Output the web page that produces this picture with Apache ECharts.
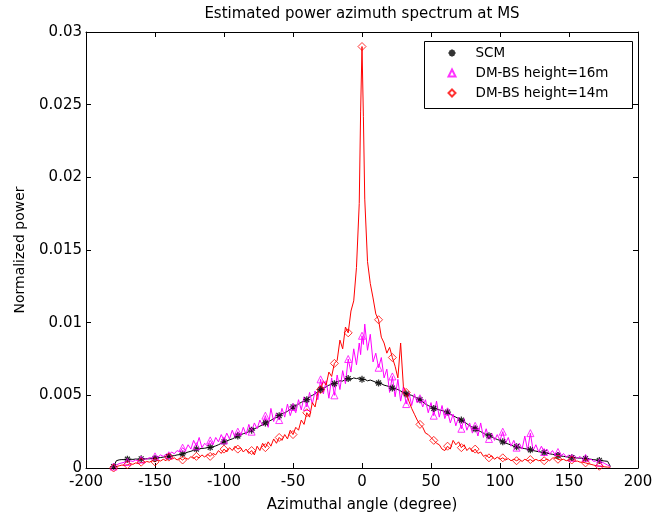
<!DOCTYPE html>
<html>
<head>
<meta charset="utf-8">
<script src="https://cdn.jsdelivr.net/npm/echarts@6/dist/echarts.min.js"></script>
<style>
    html, body { margin: 0; padding: 0; background: #fff; }
    #chart { width: 666px; height: 515px; }
</style>
</head>
<body>
<div id="chart"></div>
<script>
// azimuth angles (degree)
const angles = [
    -180, -178, -176, -174, -172, -170, -168, -166, -164, -162,
    -160, -158, -156, -154, -152, -150, -148, -146, -144, -142,
    -140, -138, -136, -134, -132, -130, -128, -126, -124, -122,
    -120, -118, -116, -114, -112, -110, -108, -106, -104, -102,
    -100, -98, -96, -94, -92, -90, -88, -86, -84, -82,
    -80, -78, -76, -74, -72, -70, -68, -66, -64, -62,
    -60, -58, -56, -54, -52, -50, -48, -46, -44, -42,
    -40, -38, -36, -34, -32, -30, -28, -26, -24, -22,
    -20, -18, -16, -14, -12, -10, -8, -6, -4, -2,
    -1, 0, 1,
    2, 4, 6, 8, 10, 12, 14, 16, 18, 20,
    22, 24, 26, 28, 30, 32, 34, 36, 38, 40,
    42, 44, 46, 48, 50, 52, 54, 56, 58, 60,
    62, 64, 66, 68, 70, 72, 74, 76, 78, 80,
    82, 84, 86, 88, 90, 92, 94, 96, 98, 100,
    102, 104, 106, 108, 110, 112, 114, 116, 118, 120,
    122, 124, 126, 128, 130, 132, 134, 136, 138, 140,
    142, 144, 146, 148, 150, 152, 154, 156, 158, 160,
    162, 164, 166, 168, 170, 172, 174, 176, 178, 180
]

// SCM
const scm = [
    0.0001, 0.0005, 0.00056, 0.00058, 0.00057, 0.0006, 0.00061, 0.00059, 0.00062, 0.0006,
    0.00063, 0.00062, 0.00064, 0.00063, 0.00066, 0.00066, 0.0007, 0.00072, 0.00075, 0.00078,
    0.0008, 0.00083, 0.00085, 0.0009, 0.00092, 0.00097, 0.00103, 0.0011, 0.00115, 0.00122,
    0.0013, 0.00132, 0.00135, 0.00136, 0.0014, 0.00142, 0.00146, 0.00152, 0.0016, 0.0017,
    0.0018, 0.00186, 0.00194, 0.002, 0.0021, 0.0022, 0.00228, 0.00236, 0.00242, 0.0025,
    0.0026, 0.0027, 0.00278, 0.00288, 0.00298, 0.0031, 0.0032, 0.00328, 0.0034, 0.00348,
    0.0036, 0.00372, 0.0038, 0.0039, 0.00405, 0.0042, 0.0043, 0.0044, 0.00452, 0.0046,
    0.0047, 0.0049, 0.005, 0.0051, 0.00525, 0.0054, 0.0055, 0.00558, 0.0057, 0.00575,
    0.0058, 0.00592, 0.006, 0.00598, 0.0061, 0.00615, 0.0061, 0.0062, 0.00615, 0.0062,
    0.0061, 0.0061, 0.00605,
    0.0061, 0.006, 0.00605, 0.00598, 0.0059, 0.00585, 0.0058, 0.0057, 0.00565, 0.0056,
    0.0055, 0.00545, 0.0054, 0.0053, 0.0052, 0.0051, 0.00505, 0.005, 0.0049, 0.0048,
    0.0047, 0.00455, 0.0044, 0.0043, 0.0042, 0.0041, 0.00405, 0.004, 0.00395, 0.0039,
    0.00385, 0.0037, 0.0036, 0.0035, 0.0034, 0.0033, 0.00318, 0.00305, 0.0029, 0.0028,
    0.0027, 0.0026, 0.0025, 0.0024, 0.0023, 0.00222, 0.00214, 0.00205, 0.00196, 0.0019,
    0.0018, 0.00172, 0.00165, 0.00158, 0.0015, 0.00146, 0.0014, 0.00137, 0.00133, 0.0013,
    0.00125, 0.0012, 0.00116, 0.00112, 0.0011, 0.00106, 0.00102, 0.00098, 0.00094, 0.0009,
    0.00086, 0.00083, 0.0008, 0.00077, 0.00075, 0.00072, 0.0007, 0.00069, 0.00068, 0.00067,
    0.00065, 0.00062, 0.0006, 0.00057, 0.00055, 0.00052, 0.0005, 0.00048, 0.00046, 0.0001
]

// DM-BS height=16m
const dm16 = [
    0.0001, 0.0002, 0.0003, 0.00035, 0.0004, 0.00042, 0.0005, 0.00045, 0.00055, 0.0005,
    0.00058, 0.00065, 0.0006, 0.00072, 0.00068, 0.0008, 0.00075, 0.0009, 0.0008, 0.00095,
    0.00088, 0.0011, 0.00098, 0.0012, 0.0011, 0.0014, 0.0012, 0.0016, 0.0013, 0.0019,
    0.0015, 0.0021, 0.0014, 0.0017, 0.0015, 0.0019, 0.0016, 0.0021, 0.0018, 0.0023,
    0.0019, 0.0024, 0.002, 0.0026, 0.0021, 0.0025, 0.0022, 0.0028, 0.0023, 0.003,
    0.0025, 0.0031, 0.0027, 0.0033, 0.0029, 0.0036, 0.0028, 0.0041, 0.0032, 0.0038,
    0.0033, 0.0041, 0.0035, 0.0044, 0.0036, 0.0042, 0.0038, 0.0047, 0.004, 0.0049,
    0.0042, 0.0052, 0.0044, 0.0053, 0.0047, 0.0061, 0.0051, 0.006, 0.0048, 0.0062,
    0.005, 0.0064, 0.0054, 0.0067, 0.0058, 0.0075, 0.0066, 0.0082, 0.0071, 0.0086,
    0.0078, 0.0091, 0.0085,
    0.0099, 0.0081, 0.0092, 0.0073, 0.0079, 0.0069, 0.0076, 0.0062, 0.0068, 0.0052,
    0.0063, 0.0049, 0.0061, 0.0046, 0.0056, 0.0044, 0.0052, 0.0043, 0.0051, 0.0045,
    0.0048, 0.0042, 0.0047, 0.0038, 0.0045, 0.0036, 0.0046, 0.0035, 0.0043, 0.0034,
    0.0039, 0.0031, 0.0037, 0.0029, 0.0035, 0.0027, 0.0034, 0.0026, 0.0031, 0.0024,
    0.0029, 0.0022, 0.0031, 0.0021, 0.0027, 0.002, 0.0024, 0.0019, 0.0023, 0.0019,
    0.0025, 0.0017, 0.0021, 0.0015, 0.0019, 0.0014, 0.0017, 0.0013, 0.0022, 0.0012,
    0.0024, 0.0012, 0.0016, 0.0011, 0.0015, 0.0011, 0.0013, 0.00095, 0.0012, 0.0009,
    0.0011, 0.0008, 0.001, 0.00075, 0.0009, 0.0007, 0.00085, 0.00065, 0.0008, 0.0006,
    0.0007, 0.00055, 0.0006, 0.00045, 0.0005, 0.00038, 0.0004, 0.0003, 0.0002, 0.0001
]

// DM-BS height=14m
const dm14 = [
    0.0, 0.0001, 0.00015, 0.0002, 0.00018, 0.00022, 0.0003, 0.00025, 0.00035, 0.0003,
    0.0004, 0.00035, 0.00045, 0.0004, 0.0005, 0.00042, 0.00055, 0.00048, 0.0006, 0.0005,
    0.00075, 0.0006, 0.0007, 0.00055, 0.00068, 0.00055, 0.0007, 0.0006, 0.00078, 0.00065,
    0.0008, 0.0007, 0.0009, 0.00075, 0.00095, 0.0008, 0.001, 0.0009, 0.0012, 0.001,
    0.0013, 0.0011, 0.0014, 0.0012, 0.0015, 0.0013, 0.0014, 0.0011, 0.0013, 0.001,
    0.0012, 0.0009, 0.0015, 0.0012, 0.0017, 0.0014, 0.0018, 0.0015, 0.002, 0.0017,
    0.0021, 0.0019, 0.0023, 0.002, 0.0026, 0.0023, 0.0028, 0.0026, 0.0033, 0.003,
    0.0038, 0.0035, 0.0045, 0.0042, 0.0052, 0.0054, 0.006, 0.0057, 0.0066, 0.0063,
    0.0072, 0.0074, 0.0088, 0.0082, 0.0097, 0.0093, 0.0108, 0.0115, 0.0138, 0.0182,
    0.0245, 0.029, 0.0242,
    0.0185, 0.0142, 0.0127, 0.0117, 0.0106, 0.0102, 0.009, 0.0086, 0.0079, 0.0083,
    0.0076, 0.007, 0.0062, 0.0086, 0.0056, 0.0052, 0.0046, 0.0041, 0.0037, 0.0033,
    0.003, 0.0028, 0.0024, 0.0023, 0.0021, 0.0019, 0.0017, 0.0016, 0.0013, 0.0012,
    0.0015, 0.0013, 0.0019, 0.0016, 0.0018, 0.0014, 0.0016, 0.0012, 0.0014, 0.0011,
    0.0013, 0.001, 0.0011, 0.0008, 0.0009, 0.0007, 0.00085, 0.0006, 0.00075, 0.0006,
    0.0007, 0.00055, 0.00065, 0.0005, 0.0006, 0.0005, 0.0006, 0.00045, 0.0006, 0.0005,
    0.00058, 0.00045, 0.0006, 0.0005, 0.00055, 0.0005, 0.00062, 0.0005, 0.00068, 0.0007,
    0.0006, 0.00055, 0.0006, 0.0005, 0.00055, 0.00055, 0.00045, 0.00048, 0.0004, 0.0004,
    0.00035, 0.0003, 0.00025, 0.0002, 0.00015, 0.00012, 0.0001, 0.00008, 0.00006, 0.00005
]

// angles where markers are drawn
const markAngles = [
    -180, -170, -160, -150, -140, -130, -120, -110, -100, -90, -80, -70,
    -60, -50, -40, -30, -20, -10, 0, 12, 22, 32, 42, 52, 62, 72,
    82, 92, 102, 112, 122, 132, 142, 152, 162, 172
]

const xTicks = [-200, -150, -100, -50, 0, 50, 100, 150, 200]
const yTicks = [0, 0.005, 0.01, 0.015, 0.02, 0.025, 0.03]

const font = 'DejaVu Sans'
const axisColor = '#000'

function linePoints (vals) {
    return angles.map((a, i) => [a, vals[i]])
}

function markPoints (vals) {
    return markAngles.map(a => [a, vals[angles.indexOf(a)]])
}

const starPath = 'path://M5,0 L5,10 M0,5 L10,5 M1.5,1.5 L8.5,8.5 M1.5,8.5 L8.5,1.5'

let chart = echarts.init(document.getElementById('chart'), null, {renderer: 'canvas'})

const xBase = {
    type: 'value',
    min: xTicks[0],
    max: xTicks[xTicks.length - 1],
    interval: 50,
    splitLine: {show: false},
    axisLine: {show: true, onZero: false, lineStyle: {color: axisColor, width: 1}},
    axisTick: {show: true, inside: true, length: 5, lineStyle: {color: axisColor}}
}
const yBase = {
    type: 'value',
    min: yTicks[0],
    max: yTicks[yTicks.length - 1],
    interval: 0.005,
    splitLine: {show: false},
    axisLine: {show: true, onZero: false, lineStyle: {color: axisColor, width: 1}},
    axisTick: {show: true, inside: true, length: 5, lineStyle: {color: axisColor}}
}

chart.setOption({
    animation: false,
    backgroundColor: '#fff',
    title: {
        text: 'Estimated power azimuth spectrum at MS',
        left: 362,
        textAlign: 'center',
        top: 7,
        padding: 0,
        textStyle: {fontFamily: font, fontSize: 15, fontWeight: 'normal', color: '#000'}
    },
    grid: {left: 86, right: 28, top: 32, bottom: 47, containLabel: false, outerBoundsMode: 'none'},
    xAxis: [
        Object.assign({}, xBase, {
            position: 'bottom',
            name: 'Azimuthal angle (degree)',
            nameLocation: 'middle',
            nameGap: 30,
            nameTextStyle: {fontFamily: font, fontSize: 15, color: '#000'},
            axisLabel: {fontFamily: font, fontSize: 15, color: '#000', margin: 7}
        }),
        Object.assign({}, xBase, {position: 'top', axisLabel: {show: false}})
    ],
    yAxis: [
        Object.assign({}, yBase, {
            position: 'left',
            name: 'Normalized power',
            nameLocation: 'middle',
            nameGap: 59,
            nameTextStyle: {fontFamily: font, fontSize: 14, color: '#000'},
            axisLabel: {fontFamily: font, fontSize: 15, color: '#000', margin: 4}
        }),
        Object.assign({}, yBase, {position: 'right', axisLabel: {show: false}})
    ],
    legend: {
        orient: 'vertical',
        left: 446,
        top: 46,
        padding: 0,
        itemWidth: 7,
        itemHeight: 7,
        itemGap: 6,
        data: ['SCM', 'DM-BS height=16m', 'DM-BS height=14m'],
        textStyle: {fontFamily: font, fontSize: 13.5, color: '#000', lineHeight: 14, padding: [0, 0, 0, 15]}
    },
    graphic: [{
        type: 'rect',
        z: 3,
        shape: {x: 424.5, y: 41.5, width: 208, height: 67},
        style: {fill: '#fff', stroke: '#000', lineWidth: 1}
    }],
    series: [
        {
            name: 'SCM-line',
            type: 'line',
            data: linePoints(scm),
            symbol: 'none',
            lineStyle: {color: '#000', width: 1},
            z: 2
        },
        {
            name: 'DM16-line',
            type: 'line',
            data: linePoints(dm16),
            symbol: 'none',
            lineStyle: {color: '#ff00ff', width: 1},
            z: 2
        },
        {
            name: 'DM14-line',
            type: 'line',
            data: linePoints(dm14),
            symbol: 'none',
            lineStyle: {color: '#ff0000', width: 1},
            z: 2
        },
        {
            name: 'SCM',
            type: 'scatter',
            data: markPoints(scm),
            symbol: starPath,
            symbolSize: 7,
            itemStyle: {color: 'none', borderColor: '#000', borderWidth: 1.3},
            z: 2
        },
        {
            name: 'DM-BS height=16m',
            type: 'scatter',
            data: markPoints(dm16),
            symbol: 'triangle',
            symbolSize: 7,
            itemStyle: {color: 'none', borderColor: '#ff00ff', borderWidth: 1},
            z: 2
        },
        {
            name: 'DM-BS height=14m',
            type: 'scatter',
            data: markPoints(dm14),
            symbol: 'diamond',
            symbolSize: 8,
            itemStyle: {color: 'none', borderColor: '#ff0000', borderWidth: 1},
            z: 2
        }
    ]
})
</script>
</body>
</html>
